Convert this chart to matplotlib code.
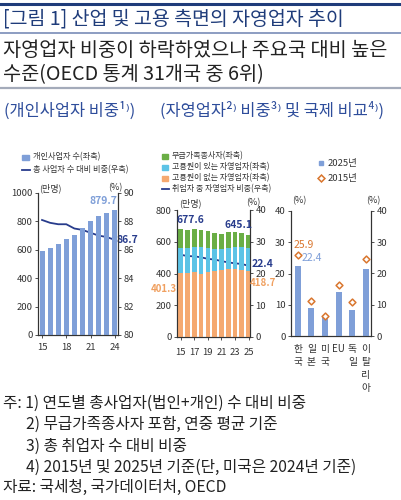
import matplotlib
matplotlib.use('Agg')
import matplotlib.pyplot as plt
from matplotlib.lines import Line2D

plt.rcParams['font.family'] = ['Noto Sans CJK KR', 'DejaVu Sans']

W, H = 402, 500

# (개인사업자 비중)
years1 = [15, 16, 17, 18, 19, 20, 21, 22, 23, 24]
biz_count = [594, 611, 638, 676, 705, 753, 800, 836, 858, 879.7]
biz_share = [88.1, 87.9, 87.8, 87.8, 87.5, 87.4, 87.2, 87.0, 86.9, 86.7]

# (자영업자 비중)
years2 = [15, 16, 17, 18, 19, 20, 21, 22, 23, 24, 25]
no_emp = [401.3, 403.0, 407.4, 398.7, 406.8, 415.9, 420.6, 426.7, 426.9, 423.0, 418.7]
with_emp = [160.9, 158.4, 160.8, 165.1, 153.8, 137.2, 130.7, 136.5, 142.0, 143.0, 140.0]
unpaid = [115.4, 112.4, 111.8, 111.9, 107.6, 102.7, 99.2, 97.8, 93.1, 90.0, 86.4]
self_share = [25.9, 25.5, 25.4, 25.1, 24.6, 24.4, 23.9, 23.5, 23.2, 23.0, 22.4]

# 국제 비교
countries = ['한국', '일본', '미국', 'EU', '독일', '이탈리아']
share_2025 = [22.4, 9.1, 6.3, 14.2, 8.2, 21.5]
share_2015 = [25.9, 11.1, 6.5, 16.4, 10.9, 24.5]

NAVY = '#283c8c'
BAR_BLUE = '#7f9fd8'
GREEN = '#6aae45'
CYAN = '#5cc3e6'
ORANGE = '#f5a970'
DIAMOND = '#d9762e'
TITLE_BLUE = '#2e4d9b'

fig = plt.figure(figsize=(W / 100, H / 100), dpi=100)


def px(x0, y0, x1, y1):
    return [x0 / W, 1 - y1 / H, (x1 - x0) / W, (y1 - y0) / H]


def T(x, y, s, **kw):
    kw.setdefault('va', 'center')
    return fig.text(x / W, 1 - y / H, s, **kw)


def hline(y, color, lw):
    fig.add_artist(Line2D([0, 1], [1 - y / H, 1 - y / H], color=color, lw=lw))


# header
hline(4, '#1f3c7a', 2.2)
hline(33, '#8c9dc2', 1.4)
hline(88, '#a4abba', 1.6)
T(3, 19, '[그림 1] 산업 및 고용 측면의 자영업자 추이', fontsize=14, color='#1f3c7a')
T(3, 50, '자영업자 비중이 하락하였으나 주요국 대비 높은', fontsize=14.2, color='#222222')
T(3, 75, '수준(OECD 통계 31개국 중 6위)', fontsize=14.2, color='#222222')

T(4, 111, '(개인사업자 비중¹⁾)', fontsize=11.8, color=TITLE_BLUE)
T(160, 111, '(자영업자²⁾ 비중³⁾ 및 국제 비교⁴⁾)', fontsize=11.8, color=TITLE_BLUE)


def style(ax, ax2):
    for a in (ax, ax2):
        a.spines['top'].set_visible(False)
        for s in a.spines.values():
            s.set_color('#333333')
            s.set_linewidth(0.8)
        a.tick_params(labelsize=6.8, length=2, width=0.6, pad=2, colors='#333333')
    ax.patch.set_visible(False)


# ---- left chart
ax1 = fig.add_axes(px(38, 193, 118, 335))
ax1b = ax1.twinx()
ax1.set_zorder(ax1b.get_zorder() + 1)
ax1.bar(years1, biz_count, width=0.62, color=BAR_BLUE)
ax1b.plot(years1, biz_share, color=NAVY, lw=1.3)
ax1.set_ylim(0, 1000)
ax1b.set_ylim(80, 90)
ax1.set_xlim(14.5, 24.4)
ax1.set_yticks(range(0, 1001, 200))
ax1b.set_yticks(range(80, 91, 2))
ax1.set_xticks([15, 18, 21, 24])
style(ax1, ax1b)
ax1.tick_params(axis='x', pad=4)
ax1.annotate(f'{biz_count[-1]}', (years1[-1], biz_count[-1]), xytext=(2, 3),
             textcoords='offset points', ha='right', va='bottom', fontsize=7.5,
             color=BAR_BLUE, fontweight='bold')
ax1b.annotate(f'{biz_share[-1]}', (years1[-1], biz_share[-1]), xytext=(1, 0),
              textcoords='offset points', ha='left', va='center', fontsize=7.5,
              color=NAVY, fontweight='bold')
T(50, 188, '(만명)', fontsize=6.5, color='#333333', ha='center')
T(115, 188, '(%)', fontsize=6.5, color='#333333', ha='center')

# legend left
fig.add_artist(plt.Rectangle((22 / W, 1 - 160 / H), 7 / W, 5 / H, color=BAR_BLUE))
fig.add_artist(Line2D([22 / W, 30 / W], [1 - 170 / H] * 2, color=NAVY, lw=1.3))
T(33, 157, '개인사업자 수(좌축)', fontsize=5.9, color='#333333')
T(33, 170, '총 사업자 수 대비 비중(우축)', fontsize=5.9, color='#333333')

# ---- middle chart
ax2 = fig.add_axes(px(177, 210, 250, 337))
ax2b = ax2.twinx()
ax2.set_zorder(ax2b.get_zorder() + 1)
bot2 = [a + b for a, b in zip(no_emp, with_emp)]
ax2.bar(years2, no_emp, width=0.7, color=ORANGE)
ax2.bar(years2, with_emp, bottom=no_emp, width=0.7, color=CYAN)
ax2.bar(years2, unpaid, bottom=bot2, width=0.7, color=GREEN)
ax2b.plot(years2, self_share, color=NAVY, lw=1.3)
ax2.set_ylim(0, 800)
ax2b.set_ylim(0, 40)
ax2.set_xlim(14.45, 25.2)
ax2.set_yticks(range(0, 801, 200))
ax2b.set_yticks(range(0, 41, 10))
ax2.set_xticks(range(15, 26, 2))
style(ax2, ax2b)
ax2.tick_params(axis='x', pad=6)
totals = [a + b for a, b in zip(bot2, unpaid)]
ax2.annotate(f'{totals[0]:.1f}', (years2[0], totals[0]), xytext=(-3, 3),
             textcoords='offset points', ha='left', va='bottom', fontsize=7.5,
             color=NAVY, fontweight='bold')
ax2.annotate(f'{totals[-1]:.1f}', (years2[-1], totals[-1]), xytext=(3, 3),
             textcoords='offset points', ha='right', va='bottom', fontsize=7.5,
             color=NAVY, fontweight='bold')
ax2b.annotate(f'{self_share[-1]}', (years2[-1], self_share[-1]), xytext=(2, 1),
              textcoords='offset points', ha='left', va='center', fontsize=7.5,
              color=NAVY, fontweight='bold')
ax2.annotate(f'{no_emp[0]}', (years2[0], no_emp[0]), xytext=(-3, -11),
             textcoords='offset points', ha='right', va='center', fontsize=7,
             color='#f0a060', fontweight='bold')
ax2.annotate(f'{no_emp[-1]}', (years2[-1], no_emp[-1]), xytext=(1, -9),
             textcoords='offset points', ha='left', va='center', fontsize=7,
             color='#f0a060', fontweight='bold')
T(190, 203, '(만명)', fontsize=6.5, color='#333333', ha='center')
T(253, 203, '(%)', fontsize=6.5, color='#333333', ha='center')

# legend middle
for yy, c in [(156, GREEN), (167, CYAN), (178, ORANGE)]:
    fig.add_artist(plt.Rectangle((162 / W, 1 - (yy + 2.5) / H), 6 / W, 5 / H, color=c))
fig.add_artist(Line2D([162 / W, 169 / W], [1 - 189 / H] * 2, color=NAVY, lw=1.3))
T(172, 156, '무급가족종사자(좌축)', fontsize=5.8, color='#333333')
T(172, 167, '고용원이 있는 자영업자(좌축)', fontsize=5.8, color='#333333')
T(172, 178, '고용원이 없는 자영업자(좌축)', fontsize=5.8, color='#333333')
T(172, 189, '취업자 중 자영업자 비중(우축)', fontsize=5.8, color='#333333')

# ---- right chart
ax3 = fig.add_axes(px(291, 211, 371, 336))
ax3b = ax3.twinx()
ax3.set_zorder(ax3b.get_zorder() + 1)
xs = list(range(len(countries)))
ax3.bar(xs, share_2025, width=0.45, color=BAR_BLUE)
ax3.scatter(xs, share_2015, marker='D', s=12, facecolor='white',
            edgecolor=DIAMOND, linewidth=1.1, zorder=3)
ax3.set_ylim(0, 40)
ax3b.set_ylim(0, 40)
ax3.set_xlim(-0.49, 5.37)
ax3.set_yticks(range(0, 41, 10))
ax3b.set_yticks(range(0, 41, 10))
ax3.set_xticks(xs)
ax3.set_xticklabels(['\n'.join(c) if c != 'EU' else c for c in countries],
                    va='top', linespacing=1.35)
style(ax3, ax3b)
ax3.tick_params(axis='x', length=0, pad=6, labelsize=7)
ax3.annotate(f'{share_2015[0]}', (xs[0], share_2015[0]), xytext=(-3, 4),
             textcoords='offset points', ha='left', va='bottom', fontsize=7.5,
             color=DIAMOND)
ax3.annotate(f'{share_2025[0]}', (xs[0], share_2025[0]), xytext=(3, 2),
             textcoords='offset points', ha='left', va='bottom', fontsize=7.5,
             color=BAR_BLUE)
T(299, 201, '(%)', fontsize=6.5, color='#333333', ha='center')
T(373, 201, '(%)', fontsize=6.5, color='#333333', ha='center')

# legend right
fig.add_artist(plt.Rectangle((319 / W, 1 - 165 / H), 4 / W, 4 / H, color=BAR_BLUE))
fig.add_artist(Line2D([321 / W], [1 - 178 / H], marker='D', markersize=3.5,
                      markerfacecolor='white', markeredgecolor=DIAMOND, mew=1.1))
T(328, 163, '2025년', fontsize=6.8, color='#333333')
T(328, 178, '2015년', fontsize=6.8, color='#333333')

# footer
T(3, 403, '주: 1) 연도별 총사업자(법인+개인) 수 대비 비중', fontsize=11.3, color='#222222')
T(26, 424, '2) 무급가족종사자 포함, 연중 평균 기준', fontsize=11.3, color='#222222')
T(26, 446, '3) 총 취업자 수 대비 비중', fontsize=11.3, color='#222222')
T(26, 467, '4) 2015년 및 2025년 기준(단, 미국은 2024년 기준)', fontsize=11.3, color='#222222')
T(3, 487, '자료: 국세청, 국가데이터처, OECD', fontsize=11.3, color='#222222')

fig.savefig('out.png', dpi=100)
